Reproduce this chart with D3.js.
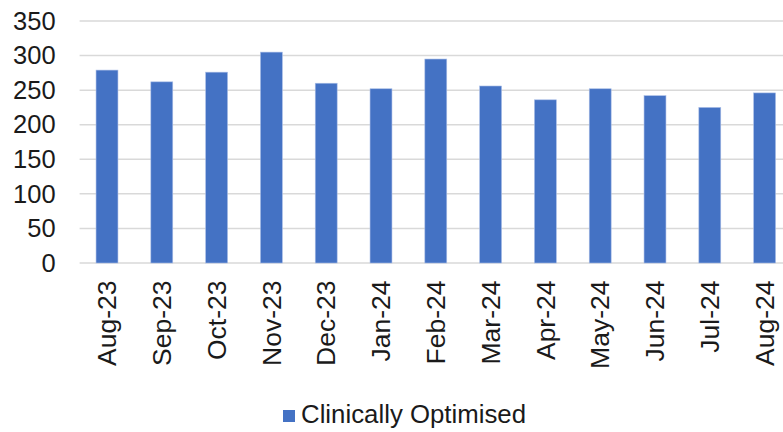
<!DOCTYPE html>
<html><head><meta charset="utf-8">
<script src="https://cdn.jsdelivr.net/npm/d3@7"></script>
<style>body{margin:0;background:#fff}svg{display:block}text{font-family:"Liberation Sans",Arial,sans-serif;fill:#1a1a1a}</style>
</head><body><svg id="c" width="783" height="432"></svg>
<script>
const categories = ["Aug-23","Sep-23","Oct-23","Nov-23","Dec-23","Jan-24","Feb-24","Mar-24","Apr-24","May-24","Jun-24","Jul-24","Aug-24"];
const values = [279,262,276,305,260,252,295,256,236,252,242,225,246];
const yTicks = [0,50,100,150,200,250,300,350];
const seriesName = "Clinically Optimised";

(function(){
const svg = d3.select("#c");
const mLeft = 79.6, mRight = 792, mTop = 21, mBottom = 263;
const x = d3.scaleBand().domain(categories).range([mLeft, mRight]).paddingInner(0.6).paddingOuter(0.3);
const y = d3.scaleLinear().domain([0,350]).range([mBottom, mTop]);

// gridlines
svg.append("g").selectAll("line").data(yTicks).join("line")
  .attr("x1", mLeft).attr("x2", 783)
  .attr("y1", d=>y(d)).attr("y2", d=>y(d))
  .attr("stroke", "#d9d9d9").attr("stroke-width", 1.5);

// y axis labels
const ya = svg.append("g").attr("transform", `translate(${mLeft},0)`)
  .call(d3.axisLeft(y).tickValues(yTicks).tickSize(0).tickPadding(24));
ya.select(".domain").remove();
ya.selectAll("text").attr("font-size", 25.5).style("font-family","Liberation Sans, Arial, sans-serif").attr("fill","#1a1a1a");

// bars
svg.append("g").selectAll("rect").data(values).join("rect")
  .attr("x", (d,i)=>x(categories[i]))
  .attr("width", x.bandwidth())
  .attr("y", d=>y(d))
  .attr("height", d=>y(0)-y(d))
  .attr("fill", "#4472C4")
  .attr("stroke", "#a9bde6").attr("stroke-width", 0.6);

// x axis labels
const xa = svg.append("g").attr("transform", `translate(0,${mBottom})`)
  .call(d3.axisBottom(x).tickSize(0));
xa.select(".domain").remove();
xa.selectAll("text")
  .attr("font-size", 26.5).style("font-family","Liberation Sans, Arial, sans-serif").attr("fill","#1a1a1a")
  .attr("text-anchor","end")
  .attr("y", 0)
  .attr("transform", "translate(0,17.5) rotate(-90)")
  .attr("dx", 0).attr("dy","0.35em");

// legend
const lg = svg.append("g");
lg.append("rect").attr("x", 283).attr("y", 410).attr("width", 12).attr("height", 12).attr("fill", "#4472C4");
lg.append("text").attr("x", 301).attr("y", 423).attr("font-size", 25.8).text(seriesName);
})();
</script></body></html>
